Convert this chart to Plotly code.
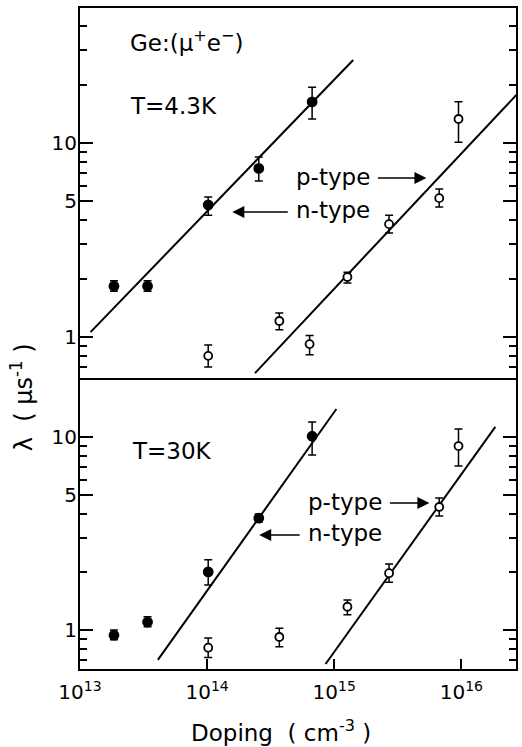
import plotly.graph_objects as go

# ---------------- data ----------------
# doping concentrations (cm^-3)
n_doping = [1.85e13, 3.4e13, 1.02e14, 2.55e14, 6.7e14]
p_doping_43K = [1.02e14, 3.7e14, 6.4e14, 1.27e15, 2.7e15, 6.7e15, 9.5e15]
p_doping_30K = [1.02e14, 3.7e14, 1.27e15, 2.7e15, 6.7e15, 9.5e15]

# T = 4.3 K
n_lam_43K = [1.83, 1.83, 4.8, 7.4, 16.3]
n_hi_43K = [1.95, 1.95, 5.27, 8.47, 19.4]
n_lo_43K = [1.72, 1.72, 4.25, 6.37, 13.3]
p_lam_43K = [0.80, 1.21, 0.92, 2.04, 3.82, 5.2, 13.3]
p_hi_43K = [0.91, 1.33, 1.02, 2.16, 4.25, 5.79, 16.3]
p_lo_43K = [0.70, 1.09, 0.81, 1.90, 3.44, 4.68, 10.1]

# T = 30 K
n_lam_30K = [0.94, 1.10, 2.0, 3.80, 10.1]
n_hi_30K = [1.0, 1.17, 2.31, 3.99, 11.97]
n_lo_30K = [0.89, 1.04, 1.71, 3.63, 8.07]
p_lam_30K = [0.81, 0.92, 1.32, 1.97, 4.34, 8.98]
p_hi_30K = [0.91, 1.02, 1.43, 2.20, 4.83, 11.0]
p_lo_30K = [0.72, 0.82, 1.20, 1.77, 3.90, 7.08]

# fitted straight lines (end points)
fit_n_43K_x = [1.21e13, 1.41e15]
fit_n_43K_y = [1.06, 26.8]
fit_p_43K_x = [2.38e14, 2.71e16]
fit_p_43K_y = [0.652, 17.7]
fit_n_30K_x = [4.1e13, 1.04e15]
fit_n_30K_y = [0.70, 13.97]
fit_p_30K_x = [8.55e14, 1.85e16]
fit_p_30K_y = [0.667, 11.3]

x_tickvals = [1e13, 1e14, 1e15, 1e16]
x_ticktext = ["10<sup>13</sup>", "10<sup>14</sup>", "10<sup>15</sup>", "10<sup>16</sup>"]
y_tickvals = [1, 5, 10]
y_ticktext = ["1", "5", "10"]
y_minor_top = [0.7, 0.8, 0.9, 2, 3, 4, 6, 7, 8, 9, 20, 30, 40]
y_minor_bot = [0.7, 0.8, 0.9, 2, 3, 4, 6, 7, 8, 9]

# ---------------- figure ----------------
W, H = 522, 747
L, R, T, B = 80, 4, 8, 78
PW, PH = W - L - R, H - T - B
SPLIT = (669 - 378) / PH


def px(xp):
    return (xp - L) / PW


def py(yp):
    return (H - B - yp) / PH


FONT = "DejaVu Sans"
fig = go.Figure()


def errs(vals, hi, lo):
    return ([h - v for h, v in zip(hi, vals)], [v - l for v, l in zip(vals, lo)])


def add_points(xs, ys, hi, lo, filled, xa, ya):
    up, dn = errs(ys, hi, lo)
    fig.add_trace(go.Scatter(
        x=xs, y=ys, mode="markers", xaxis=xa, yaxis=ya, showlegend=False,
        marker=dict(size=9 if filled else 8,
                    color="black" if filled else "white",
                    line=dict(color="black", width=1.8)),
        error_y=dict(type="data", array=up, arrayminus=dn, symmetric=False,
                     color="black", thickness=1.5, width=4),
    ))


def add_line(xs, ys, xa, ya):
    fig.add_trace(go.Scatter(x=xs, y=ys, mode="lines", xaxis=xa, yaxis=ya,
                             showlegend=False,
                             line=dict(color="black", width=2)))


# top panel (x2, y2)
add_line(fit_n_43K_x, fit_n_43K_y, "x2", "y2")
add_line(fit_p_43K_x, fit_p_43K_y, "x2", "y2")
add_points(n_doping, n_lam_43K, n_hi_43K, n_lo_43K, True, "x2", "y2")
add_points(p_doping_43K, p_lam_43K, p_hi_43K, p_lo_43K, False, "x2", "y2")
# bottom panel (x, y)
add_line(fit_n_30K_x, fit_n_30K_y, "x", "y")
add_line(fit_p_30K_x, fit_p_30K_y, "x", "y")
add_points(n_doping, n_lam_30K, n_hi_30K, n_lo_30K, True, "x", "y")
add_points(p_doping_30K, p_lam_30K, p_hi_30K, p_lo_30K, False, "x", "y")

axis_line = dict(showline=True, linecolor="black", linewidth=2, showgrid=False,
                 zeroline=False)
tickfont = dict(family=FONT, size=20, color="black")

fig.update_layout(
    width=W, height=H,
    margin=dict(l=L, r=R, t=T, b=B),
    paper_bgcolor="white", plot_bgcolor="white",
    font=dict(family=FONT, color="black"),
    xaxis=dict(type="log", range=[13, 16.43], anchor="y", domain=[0, 1],
               tickvals=x_tickvals, ticktext=x_ticktext, ticks="inside",
               ticklen=10, tickwidth=1.5, tickcolor="black", mirror=False,
               tickfont=tickfont, ticklabelstandoff=4, **axis_line),
    xaxis2=dict(type="log", range=[13, 16.43], anchor="y2", matches="x",
                showticklabels=False, ticks="", mirror=True, **axis_line),
    yaxis=dict(type="log", range=[-0.202, 1.306], domain=[0, SPLIT],
               anchor="x", tickvals=y_tickvals, ticktext=y_ticktext,
               ticks="inside", ticklen=13, tickwidth=1.5, tickcolor="black",
               mirror="ticks", tickfont=tickfont, ticklabelstandoff=-3,
               minor=dict(tickvals=y_minor_bot, ticks="inside", ticklen=7,
                          tickwidth=1.5, tickcolor="black", showgrid=False),
               **axis_line),
    yaxis2=dict(type="log", range=[-0.211, 1.696], domain=[SPLIT, 1],
                anchor="x2", tickvals=y_tickvals, ticktext=y_ticktext,
                ticks="inside", ticklen=13, tickwidth=1.5, tickcolor="black",
                mirror="ticks", tickfont=tickfont, ticklabelstandoff=-3,
                minor=dict(tickvals=y_minor_top, ticks="inside", ticklen=7,
                           tickwidth=1.5, tickcolor="black", showgrid=False),
                **axis_line),
)

afont = dict(family=FONT, size=23, color="black")
texts = [
    ("Ge:(μ<sup>+</sup>e<sup>−</sup>)", 128, 41),
    ("T=4.3K", 128, 106),
    ("T=30K", 130, 451),
    ("p-type", 295, 177),
    ("n-type", 295, 210),
    ("p-type", 307, 502),
    ("n-type", 307, 533),
]
for txt, xp, yp in texts:
    fig.add_annotation(text=txt, x=px(xp), y=py(yp), xref="paper", yref="paper",
                       xanchor="left", yanchor="middle", showarrow=False,
                       font=afont)

# arrows: (tail x, head x, y) in pixels
arrows = [(378, 428, 178), (290, 233, 212), (390, 431, 503), (302, 260, 535)]
for tx, hx, yp in arrows:
    fig.add_annotation(text="", x=px(hx), y=py(yp), xref="paper", yref="paper",
                       ax=tx - hx, ay=0, axref="pixel", ayref="pixel",
                       showarrow=True, arrowhead=2, arrowsize=1.6,
                       arrowwidth=1.5, arrowcolor="black")

# axis titles
fig.add_annotation(text="Doping  ( cm<sup>-3</sup> )", x=px(282), y=py(731),
                   xref="paper", yref="paper", showarrow=False,
                   xanchor="center", yanchor="middle",
                   font=dict(family=FONT, size=23, color="black"))
fig.add_annotation(text="λ  ( μs<sup>-1</sup> )", x=px(22), y=py(397),
                   xref="paper", yref="paper", showarrow=False, textangle=-90,
                   xanchor="center", yanchor="middle",
                   font=dict(family=FONT, size=24, color="black"))

fig.write_html("out.html", config={"displayModeBar": False},
               post_script="document.body.style.margin='0px';")
